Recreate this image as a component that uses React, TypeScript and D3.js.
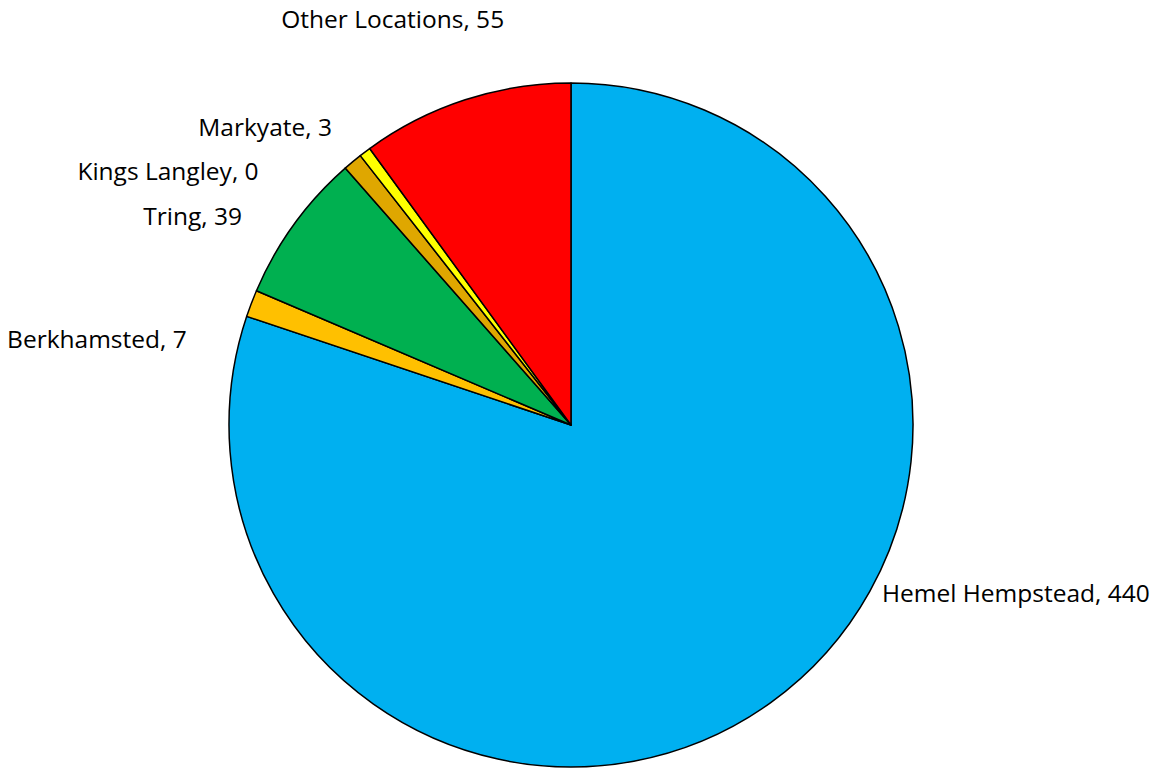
import React from 'react';
import * as d3 from 'd3';

// slices, clockwise from 12 o'clock
const categories = ['Hemel Hempstead', 'Berkhamsted', 'Tring', 'Kings Langley', 'Markyate', 'Other Locations'];
// slice sizes as drawn (Kings Langley shows a thin wedge although its label reads 0)
const values = [440, 7, 39, 5, 3, 55];
// numbers printed in the labels
const labelValues = [440, 7, 39, 0, 3, 55];
const colors = ['#00B0F0', '#FFC000', '#00B050', '#DFA700', '#FFFF00', '#FF0000'];

const width = 1169;
const height = 768;
const cx = 571;
const cy = 425;
const radius = 342;

// label placement: [angle in degrees clockwise from top, distance from centre, text anchor]
const labelLayout: [number, number, string][] = [
	[119.7, 358, 'start'],
	[281.4, 392, 'end'],
	[301.3, 385, 'end'],
	[308.1, 397, 'end'],
	[320.4, 375, 'end'],
	[335.8, 435, 'middle'],
];

const App: React.FC = () => {
	const pie = d3
		.pie<number>()
		.sort(null)
		.value((d) => d);
	const arcs = pie(values);
	const arc = d3.arc<d3.PieArcDatum<number>>().innerRadius(0).outerRadius(radius);

	return (
		<svg
			width={width}
			height={height}
			style={{ position: 'absolute', left: 0, top: 0, background: '#fff' }}
			fontFamily="'Open Sans', sans-serif"
		>
			<g transform={`translate(${cx},${cy})`}>
				{arcs.map((a, i) => (
					<path key={categories[i]} d={arc(a) || ''} fill={colors[i]} stroke="#000" strokeWidth={1.5} strokeLinejoin="round" />
				))}
				{categories.map((c, i) => {
					const [deg, r, anchor] = labelLayout[i];
					const [x, y] = d3.pointRadial((deg * Math.PI) / 180, r);
					return (
						<text key={c} x={x} y={y} textAnchor={anchor} fontSize={24.5} fill="#000">
							{`${c}, ${labelValues[i]}`}
						</text>
					);
				})}
			</g>
		</svg>
	);
};

export default App;
